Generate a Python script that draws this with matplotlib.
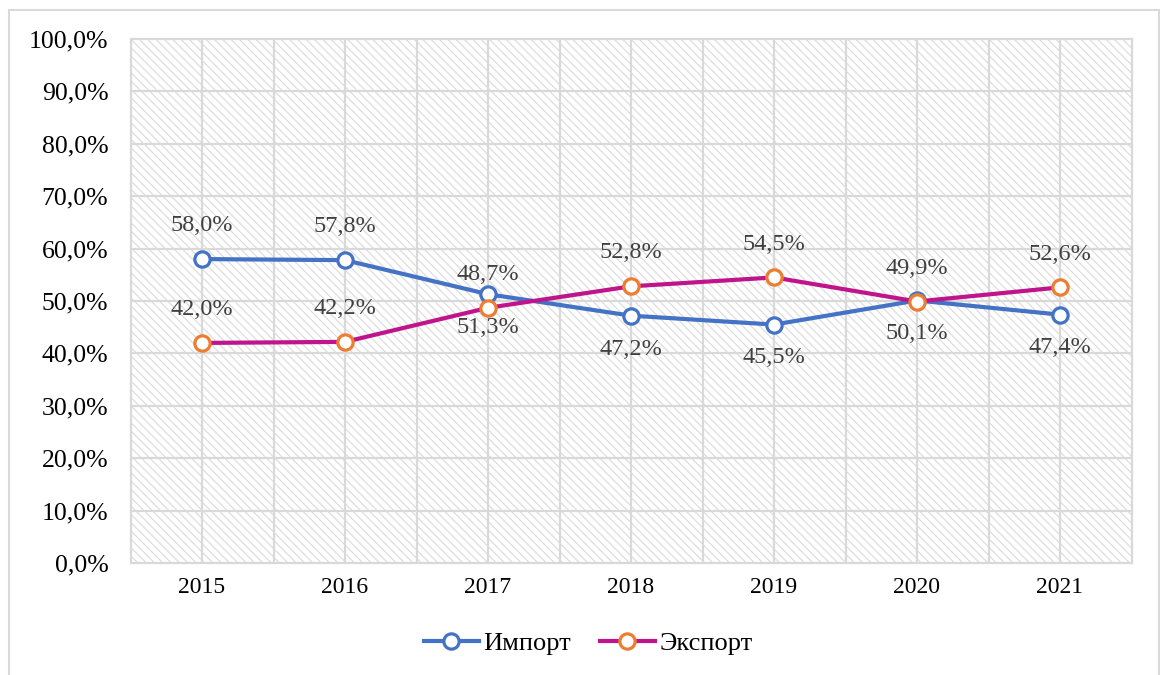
import matplotlib
matplotlib.use("Agg")
import matplotlib.pyplot as plt
from matplotlib.patches import Rectangle
from matplotlib.ticker import FuncFormatter, MultipleLocator

years = ["2015", "2016", "2017", "2018", "2019", "2020", "2021"]
import_vals = [58.0, 57.8, 51.3, 47.2, 45.5, 50.1, 47.4]
export_vals = [42.0, 42.2, 48.7, 52.8, 54.5, 49.9, 52.6]
import_label_pos = ["above", "above", "below", "below", "below", "below", "below"]
export_label_pos = ["above"] * 7

plt.rcParams['font.family'] = ['Liberation Serif', 'DejaVu Serif']
plt.rcParams['hatch.linewidth'] = 0.8

W, H = 1160, 675
fig = plt.figure(figsize=(W / 100, H / 100), dpi=100)
ax = fig.add_axes([130.5 / W, (H - 563) / H, 1001 / W, 524 / H])

grid_c = '#d9d9d9'
x = list(range(len(years)))
ax.set_xlim(-0.5, len(years) - 0.5)
ax.set_ylim(0, 100)

# hatched background
bg = Rectangle((0, 0), 1, 1, transform=ax.transAxes, facecolor='white',
               edgecolor='#dadada', hatch='\\\\\\\\', linewidth=0, zorder=0)
ax.add_patch(bg)

# gridlines
for yv in range(10, 100, 10):
    ax.axhline(yv, color=grid_c, lw=1.6, zorder=1)
for k in range(1, 2 * len(years)):
    ax.axvline(-0.5 + k * 0.5, color=grid_c, lw=1.6, zorder=1)
for s in ax.spines.values():
    s.set_color(grid_c)
    s.set_linewidth(1.6)

blue = '#4472C4'
mag = '#C0148C'
orange = '#ED7D31'

ax.plot(x, import_vals, color=blue, lw=3, marker='o', ms=11, mfc='white',
        mec=blue, mew=2.3, zorder=3, label='Импорт')
ax.plot(x, export_vals, color=mag, lw=3, marker='o', ms=11, mfc='white',
        mec=orange, mew=2.3, zorder=4, label='Экспорт')

def fmt(v):
    return f"{v:.1f}".replace('.', ',') + '%'

for vals, pos in ((import_vals, import_label_pos), (export_vals, export_label_pos)):
    for i, (v, p) in enumerate(zip(vals, pos)):
        off = 24 if p == "above" else -24
        ax.annotate(fmt(v), (i, v), xytext=(0, off), textcoords='offset points',
                    ha='center', va='center', fontsize=17.5, color='#404040', zorder=5)

ax.set_xticks(x)
ax.set_xticklabels(years, fontsize=17)
ax.yaxis.set_major_locator(MultipleLocator(10))
ax.yaxis.set_major_formatter(FuncFormatter(lambda v, p: f"{v:.1f}".replace('.', ',') + '%'))
ax.tick_params(axis='y', labelsize=18.5, length=0, pad=16)
ax.tick_params(axis='x', length=0, pad=10)

leg = fig.legend(loc='center', bbox_to_anchor=(588 / W, 1 - 643 / H), ncol=2,
                 frameon=False, fontsize=19, handlelength=2.1, columnspacing=1.1,
                 handletextpad=0.15)

fig.add_artist(Rectangle((8.5 / W, -0.1), (1159 - 8.5) / W, 1.1 - 9.5 / H,
                         transform=fig.transFigure, fill=False, edgecolor='#d9d9d9',
                         linewidth=1.5))

fig.savefig('out.png', dpi=100)
